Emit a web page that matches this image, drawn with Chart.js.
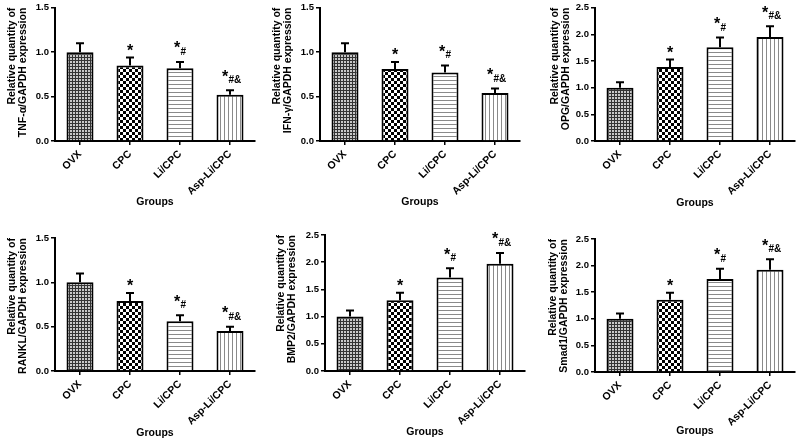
<!DOCTYPE html>
<html>
<head>
<meta charset="utf-8">
<script src="https://cdn.jsdelivr.net/npm/chart.js@4"></script>
<style>
  body { margin: 0; background: #fff; }
  #wrap { position: relative; width: 800px; height: 443px; overflow: hidden; }
  canvas { position: absolute; }
</style>
</head>
<body>
<div id="wrap"></div>
<script>
const groups = ['OVX', 'CPC', 'Li/CPC', 'Asp-Li/CPC'];
const marks = ['', '*', '*#', '*#&'];

const tnfMeans = [1.00, 0.85, 0.82, 0.52];
const tnfErrs = [0.10, 0.09, 0.07, 0.05];
const ifnMeans = [1.00, 0.81, 0.77, 0.54];
const ifnErrs = [0.10, 0.08, 0.08, 0.05];
const opgMeans = [1.00, 1.39, 1.76, 1.95];
const opgErrs = [0.10, 0.14, 0.18, 0.20];
const ranklMeans = [1.00, 0.79, 0.56, 0.45];
const ranklErrs = [0.10, 0.09, 0.07, 0.05];
const bmp2Means = [1.00, 1.30, 1.72, 1.97];
const bmp2Errs = [0.11, 0.14, 0.17, 0.20];
const smadMeans = [1.00, 1.36, 1.75, 1.92];
const smadErrs = [0.10, 0.13, 0.19, 0.20];

const lowTicks = [0, 0.5, 1.0, 1.5];
const highTicks = [0, 0.5, 1.0, 1.5, 2.0, 2.5];

const tnfTitle = ['Relative quantity of', 'TNF-\u03b1/GAPDH expression'];
const ifnTitle = ['Relative quantity of', 'IFN-\u03b3/GAPDH expression'];
const opgTitle = ['Relative quantity of', 'OPG/GAPDH expression'];
const ranklTitle = ['Relative quantity of', 'RANKL/GAPDH expression'];
const bmp2Title = ['Relative quantity of', 'BMP2/GAPDH expression'];
const smadTitle = ['Relative quantity of', 'Smad1/GAPDH expression'];
const xTitle = 'Groups';

const FONT = '"Liberation Sans", Arial, sans-serif';
const H = 221;

// where each small chart sits on the page
const panels = [
  { means: tnfMeans, errs: tnfErrs, ticks: lowTicks, title: tnfTitle, left: 0, top: 0, w: 265, axisX: 55, areaTop: 7, areaBottom: 141, titleX: 11.7, groupsY: 202 },
  { means: ifnMeans, errs: ifnErrs, ticks: lowTicks, title: ifnTitle, left: 265, top: 0, w: 265, axisX: 55, areaTop: 7, areaBottom: 141, titleX: 11.7, groupsY: 202 },
  { means: opgMeans, errs: opgErrs, ticks: highTicks, title: opgTitle, left: 530, top: 0, w: 270, axisX: 65, areaTop: 7, areaBottom: 141, titleX: 25, groupsY: 203 },
  { means: ranklMeans, errs: ranklErrs, ticks: lowTicks, title: ranklTitle, left: 0, top: 222, w: 265, axisX: 55, areaTop: 16, areaBottom: 149, titleX: 11.7, groupsY: 211 },
  { means: bmp2Means, errs: bmp2Errs, ticks: highTicks, title: bmp2Title, left: 265, top: 222, w: 265, axisX: 60, areaTop: 13, areaBottom: 149, titleX: 16, groupsY: 210 },
  { means: smadMeans, errs: smadErrs, ticks: highTicks, title: smadTitle, left: 530, top: 222, w: 270, axisX: 65, areaTop: 17, areaBottom: 150, titleX: 23.3, groupsY: 209 },
];

const makePattern = (size, draw) => {
  const c = document.createElement('canvas');
  c.width = size; c.height = size;
  const g = c.getContext('2d');
  draw(g, size);
  return document.createElement('canvas').getContext('2d').createPattern(c, 'repeat');
};

const fills = [
  makePattern(3, (g) => {
    g.fillStyle = '#333'; g.fillRect(0, 0, 3, 3);
    g.fillStyle = '#c8c8c8'; g.fillRect(1, 1, 2, 2);
  }),
  makePattern(6, (g) => {
    g.fillStyle = '#fff'; g.fillRect(0, 0, 6, 6);
    g.fillStyle = '#000'; g.fillRect(0, 0, 3, 3); g.fillRect(3, 3, 3, 3);
  }),
  makePattern(4, (g) => {
    g.fillStyle = '#fff'; g.fillRect(0, 0, 4, 4);
    g.fillStyle = '#8a8a8a'; g.fillRect(0, 0, 4, 1);
  }),
  makePattern(4, (g) => {
    g.fillStyle = '#fff'; g.fillRect(0, 0, 4, 4);
    g.fillStyle = '#8a8a8a'; g.fillRect(0, 0, 1, 4);
  }),
];

// error bars (upper half only) and significance marks
const errMarks = {
  id: 'errMarks',
  afterDatasetsDraw(chart, args, opts) {
    const { ctx } = chart;
    const y = chart.scales.y;
    const means = chart.data.datasets[0].data;
    const bars = chart.getDatasetMeta(0).data;
    ctx.save();
    bars.forEach((bar, i) => {
      const base = y.getPixelForValue(means[i]);
      const top = y.getPixelForValue(means[i] + opts.errs[i]);
      ctx.strokeStyle = '#000';
      ctx.lineWidth = 2;
      ctx.beginPath();
      ctx.moveTo(bar.x, base);
      ctx.lineTo(bar.x, top);
      ctx.moveTo(bar.x - 4, top);
      ctx.lineTo(bar.x + 4, top);
      ctx.stroke();

      const m = opts.marks[i];
      if (!m) return;
      const suffix = m.slice(1);
      ctx.fillStyle = '#000';
      ctx.textBaseline = 'alphabetic';
      ctx.font = 'bold 16px ' + FONT;
      ctx.textAlign = 'center';
      if (!suffix) {
        ctx.fillText('*', bar.x, top - 1.5);
        return;
      }
      const starX = bar.x - 1 - 2 * suffix.length;
      ctx.fillText('*', starX, top - 8.5);
      ctx.font = 'bold 10px ' + FONT;
      ctx.textAlign = 'left';
      ctx.fillText(suffix, starX + 3.5, top - 7);
    });
    ctx.restore();
  },
};

const wrap = document.getElementById('wrap');

panels.forEach((p) => {
  const canvas = document.createElement('canvas');
  canvas.width = p.w;
  canvas.height = H;
  canvas.style.left = p.left + 'px';
  canvas.style.top = p.top + 'px';
  wrap.appendChild(canvas);

  const yMax = p.ticks[p.ticks.length - 1];
  const titleLH = 11;

  new Chart(canvas, {
    type: 'bar',
    data: {
      labels: groups,
      datasets: [{
        data: p.means,
        backgroundColor: fills,
        borderColor: '#000',
        borderWidth: 2,
        borderSkipped: 'bottom',
        barPercentage: 0.54,
        categoryPercentage: 1,
      }],
    },
    options: {
      responsive: false,
      animation: false,
      events: [],
      layout: {
        padding: { top: p.areaTop, right: p.w - p.axisX - 200, left: 0, bottom: 0 },
      },
      plugins: {
        legend: { display: false },
        tooltip: { enabled: false },
        errMarks: { errs: p.errs, marks: marks },
      },
      scales: {
        x: {
          offset: true,
          afterFit: (scale) => { scale.height = H - p.areaBottom; },
          border: { color: '#000', width: 2 },
          grid: { offset: false, drawOnChartArea: false, drawTicks: true, tickLength: 4, color: '#000', lineWidth: 1.5 },
          ticks: {
            color: '#000',
            font: { family: FONT, size: 10.5, weight: 'bold' },
            minRotation: 45,
            maxRotation: 45,
            padding: 3,
          },
          title: {
            display: true,
            text: xTitle,
            color: '#000',
            font: { family: FONT, size: 10.5, weight: 'bold', lineHeight: titleLH / 10.5 },
            padding: { top: 0, bottom: H - p.groupsY - titleLH / 2 },
          },
        },
        y: {
          min: 0,
          max: yMax,
          afterFit: (scale) => { scale.width = p.axisX; },
          afterBuildTicks: (scale) => { scale.ticks = p.ticks.map((v) => ({ value: v })); },
          border: { color: '#000', width: 2 },
          grid: { drawOnChartArea: false, drawTicks: true, tickLength: 4, color: '#000', lineWidth: 1.5 },
          ticks: {
            color: '#000',
            font: { family: FONT, size: 9.5, weight: 'bold' },
            padding: 2,
            callback: (v) => Number(v).toFixed(1),
          },
          title: {
            display: true,
            text: p.title,
            align: 'end',
            color: '#000',
            font: { family: FONT, size: 10.5, weight: 'bold', lineHeight: titleLH / 10.5 },
            padding: { top: p.titleX - titleLH / 2, bottom: 0 },
          },
        },
      },
    },
    plugins: [errMarks],
  });
});
</script>
</body>
</html>
